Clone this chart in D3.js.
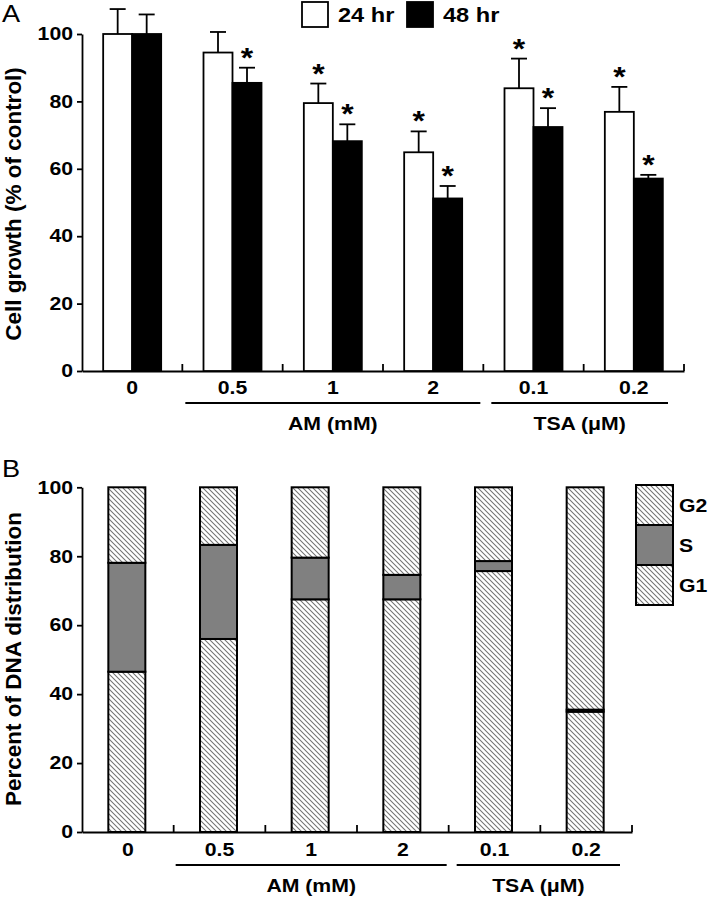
<!DOCTYPE html>
<html>
<head>
<meta charset="utf-8">
<script src="https://cdn.jsdelivr.net/npm/d3@7/dist/d3.min.js"></script>
<style>
  html, body { margin: 0; padding: 0; background: #fff; }
  svg { display: block; }
  text { font-family: "Liberation Sans", Arial, sans-serif; fill: #000; }
</style>
</head>
<body>
<svg id="chart" width="708" height="899"></svg>
<script>
// ---------------- data ----------------
const categories = ["0", "0.5", "1", "2", "0.1", "0.2"];

// Panel A: cell growth (% of control)
const growth24 = [100, 94.5, 79.5, 64.9, 83.9, 76.9];
const err24    = [7.4, 6.1, 5.8, 6.2, 8.8, 7.4];
const growth48 = [100, 85.5, 68.2, 51.2, 72.4, 57.1];
const err48    = [5.8, 4.5, 5.0, 3.7, 5.6, 1.1];
const sig24 = [false, false, true, true, true, true];
const sig48 = [false, true, true, true, true, true];
const seriesA = ["24 hr", "48 hr"];
const yTicksA = [0, 20, 40, 60, 80, 100];

// Panel B: percent of DNA distribution
const phaseG1 = [46.5, 56.0, 67.5, 67.5, 75.7, 34.9];
const phaseS  = [31.6, 27.3, 12.1, 7.1, 2.9, 0.6];
const phaseG2 = [21.9, 16.7, 20.4, 25.4, 21.4, 64.5];
const phases = ["G1", "S", "G2"];
const yTicksB = [0, 20, 40, 60, 80, 100];

// treatment groups under the x axis
const groupLabels = ["AM (mM)", "TSA (\u03bcM)"];
const groupFirst  = ["0.5", "0.1"];
const groupLast   = ["2", "0.2"];

// ---------------- drawing ----------------
const SX = 1.18; // horizontal stretch of the lettering
const svg = d3.select("#chart");
const defs = svg.append("defs");
const pat = defs.append("pattern").attr("id", "hatch")
  .attr("patternUnits", "userSpaceOnUse").attr("width", 5).attr("height", 5);
pat.append("rect").attr("width", 5).attr("height", 5).attr("fill", "#fff");
pat.append("path").attr("d", "M-1,-1L6,6M-1,4L1,6M4,-1L6,1")
  .attr("stroke", "#737373").attr("stroke-width", 1.05);

function htext(g, x, y, str, opts = {}) {
  return g.append("text")
    .attr("transform", `translate(${x},${y}) scale(${SX},1)`)
    .attr("text-anchor", opts.anchor || "start")
    .attr("font-size", opts.size || 18)
    .attr("font-weight", opts.weight || "bold")
    .text(str);
}

function styleAxisText(sel) {
  sel.selectAll("text").each(function () {
    const t = d3.select(this);
    const x = +t.attr("x") || 0, y = +t.attr("y") || 0;
    t.attr("x", 0).attr("y", 0)
     .attr("transform", `translate(${x},${y}) scale(${SX},1)`)
     .attr("font-size", 18).attr("font-weight", "bold")
     .attr("font-family", "Liberation Sans, Arial, sans-serif").attr("fill", "#000");
  });
  sel.selectAll("path, line").attr("stroke", "#000").attr("stroke-width", 1.8);
}

function drawPanel(opts) {
  const { x, y, axisY, titleY, title, xPad, bracketY, bracketTextY, insets } = opts;
  const g = svg.append("g");
  // y axis
  const ga = g.append("g").attr("transform", `translate(${x.range()[0]},0)`)
    .call(d3.axisLeft(y).tickValues(opts.yTicks).tickSize(5).tickSizeOuter(0).tickPadding(4));
  styleAxisText(ga);
  // x axis (labels at band centres, ticks at band edges pointing up)
  const gx = g.append("g").attr("transform", `translate(0,${axisY})`)
    .call(d3.axisBottom(x).tickSize(0).tickSizeOuter(0).tickPadding(xPad));
  styleAxisText(gx);
  gx.selectAll(".edge").data(categories).enter().append("line")
    .attr("class", "edge")
    .attr("x1", d => x(d) + x.bandwidth()).attr("x2", d => x(d) + x.bandwidth())
    .attr("y1", 0).attr("y2", -7).attr("stroke", "#000").attr("stroke-width", 1.8);
  // treatment brackets
  groupLabels.forEach((lab, i) => {
    const x0 = x(groupFirst[i]) + insets[i][0];
    const x1 = x(groupLast[i]) + x.bandwidth() - insets[i][1];
    g.append("line").attr("x1", x0).attr("x2", x1)
      .attr("y1", bracketY).attr("y2", bracketY)
      .attr("stroke", "#000").attr("stroke-width", 1.8);
    htext(g, (x0 + x1) / 2, bracketTextY, lab, { anchor: "middle" });
  });
  // y title
  g.append("text")
    .attr("transform", `translate(20.5,${titleY}) rotate(-90)`)
    .attr("text-anchor", "middle").attr("font-size", 22.5).attr("font-weight", "bold")
    .text(title);
  return g;
}

// ---------- Panel A ----------
const xA = d3.scaleBand().domain(categories).range([82, 684]).padding(0);
const yA = d3.scaleLinear().domain([0, 100]).range([371, 34]);
const gA = drawPanel({
  x: xA, y: yA, yTicks: yTicksA, axisY: 371, xPad: 10,
  title: "Cell growth (% of control)", titleY: 204,
  bracketY: 403, bracketTextY: 430, insets: [[3, 3], [8, 16]]
});
htext(svg, 2, 22, "A", { size: 23, weight: "normal" });

const barW = 29;
const tableA = categories.map((c, i) => ({
  c, v: [growth24[i], growth48[i]], e: [err24[i], err48[i]], s: [sig24[i], sig48[i]]
}));
const barsA = gA.append("g");
tableA.forEach(d => {
  const cx = xA(d.c) + xA.bandwidth() / 2;
  [0, 1].forEach(k => {
    const bx = cx + (k === 0 ? -barW : 0);
    const mid = bx + barW / 2;
    const top = yA(d.v[k] + d.e[k]);
    barsA.append("line").attr("x1", mid).attr("x2", mid)
      .attr("y1", yA(d.v[k])).attr("y2", top)
      .attr("stroke", "#000").attr("stroke-width", 1.8);
    barsA.append("line").attr("x1", mid - 8).attr("x2", mid + 8)
      .attr("y1", top).attr("y2", top)
      .attr("stroke", "#000").attr("stroke-width", 1.8);
    barsA.append("rect").attr("x", bx).attr("y", yA(d.v[k]))
      .attr("width", barW).attr("height", yA(0) - yA(d.v[k]))
      .attr("fill", k === 0 ? "#fff" : "#000")
      .attr("stroke", "#000").attr("stroke-width", 1.8);
    if (d.s[k]) htext(barsA, mid, top - 1, "*", { anchor: "middle", size: 27 });
  });
});

// legend A
const legA = svg.append("g");
seriesA.forEach((s, i) => {
  const lx = 302 + i * 105;
  legA.append("rect").attr("x", lx).attr("y", 2).attr("width", 26).attr("height", 25)
    .attr("fill", i === 0 ? "#fff" : "#000").attr("stroke", "#000").attr("stroke-width", 1.8);
  htext(legA, lx + 36, 21.5, s, { size: 20 });
});

// ---------- Panel B ----------
const xB = d3.scaleBand().domain(categories).range([82, 632]).padding(0);
const yB = d3.scaleLinear().domain([0, 100]).range([832, 487.3]);
const gB = drawPanel({
  x: xB, y: yB, yTicks: yTicksB, axisY: 832, xPad: 11,
  title: "Percent of DNA distribution", titleY: 659,
  bracketY: 865, bracketTextY: 891.5, insets: [[2, 2], [8, 12]]
});
htext(svg, 2, 476.5, "B", { size: 23, weight: "normal" });

const tableB = categories.map((c, i) => ({ c, G1: phaseG1[i], S: phaseS[i], G2: phaseG2[i] }));
const stackB = d3.stack().keys(phases)(tableB);
const fills = { G1: "url(#hatch)", S: "#808080", G2: "url(#hatch)" };
const bwB = 37;
gB.append("g").selectAll("g").data(stackB).enter().append("g")
  .attr("fill", d => fills[d.key])
  .selectAll("rect").data(d => d).enter().append("rect")
  .attr("x", d => xB(d.data.c) + xB.bandwidth() / 2 - 1 - bwB / 2)
  .attr("width", bwB)
  .attr("y", d => yB(d[1]))
  .attr("height", d => yB(d[0]) - yB(d[1]))
  .attr("stroke", "#000").attr("stroke-width", 2);

// legend B
const legB = svg.append("g");
phases.slice().reverse().forEach((p, i) => {
  const ly = 485 + i * 40;
  legB.append("rect").attr("x", 636).attr("y", ly).attr("width", 37).attr("height", 40)
    .attr("fill", fills[p]).attr("stroke", "#000").attr("stroke-width", 2);
  htext(legB, 679, ly + 27, p, { size: 18 });
});
</script>
</body>
</html>
